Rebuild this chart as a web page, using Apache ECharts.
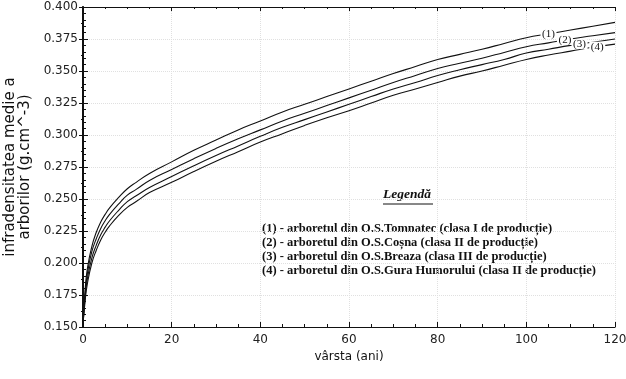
<!DOCTYPE html>
<html><head><meta charset="utf-8">
<script src="https://cdn.jsdelivr.net/npm/echarts@6/dist/echarts.min.js"></script>
<style>html,body{margin:0;padding:0;background:#fff}#c{width:626px;height:379px}</style>
</head><body><div id="c"></div>
<script>
const ages = [0,0.5,1,2,3,4,5,6,8,10,12,15,20,25,30,35,40,45,50,55,60,65,70,75,80,85,90,95,100,105,110,115,120];
const line1 = [0.152,0.180,0.196,0.213,0.224,0.232,0.238,0.243,0.251,0.258,0.263,0.270,0.279,0.288,0.296,0.304,0.311,0.318,0.324,0.330,0.336,0.342,0.348,0.3535,0.359,0.363,0.367,0.3715,0.376,0.379,0.382,0.385,0.388];
const line2 = [0.152,0.177,0.192,0.209,0.219,0.227,0.233,0.238,0.246,0.253,0.2575,0.2645,0.273,0.2815,0.2895,0.297,0.304,0.311,0.317,0.323,0.329,0.335,0.341,0.3465,0.352,0.356,0.360,0.3645,0.369,0.372,0.375,0.3775,0.380];
const line3 = [0.152,0.174,0.188,0.204,0.214,0.222,0.228,0.233,0.241,0.248,0.2525,0.259,0.2675,0.276,0.284,0.2915,0.299,0.306,0.312,0.318,0.324,0.330,0.336,0.341,0.3465,0.351,0.355,0.359,0.364,0.367,0.370,0.3725,0.375];
const line4 = [0.152,0.171,0.184,0.200,0.210,0.218,0.224,0.229,0.237,0.2435,0.248,0.255,0.263,0.2715,0.2795,0.287,0.2945,0.301,0.3075,0.3135,0.319,0.325,0.331,0.336,0.341,0.346,0.350,0.3545,0.359,0.3625,0.3655,0.3685,0.371];
const seriesNames = ['(1)','(2)','(3)','(4)'];
const labelAges = [105,108.7,112,116];
const legendTitle = 'Legendă';
const legendLines = [
  '(1) - arboretul din O.S.Tomnatec (clasa I de producție)',
  '(2) - arboretul din O.S.Coșna (clasa II de producție)',
  '(3) - arboretul din O.S.Breaza (clasa III de producție)',
  '(4) - arboretul din O.S.Gura Humorului (clasa II de producție)'
];
const xName = 'vârsta (ani)';
const yName = 'infradensitatea medie a\narborilor (g.cm^-3)';

function interp(arr, a){
  for(let i=0;i<ages.length-1;i++){
    if(a>=ages[i]&&a<=ages[i+1]){const t=(a-ages[i])/(ages[i+1]-ages[i]);return arr[i]+t*(arr[i+1]-arr[i]);}
  }
  return arr[arr.length-1];
}
const all=[line1,line2,line3,line4];
const chart = echarts.init(document.getElementById('c'));
const axFont = {fontFamily:'DejaVu Sans',fontSize:12,color:'#222'};
const series = all.map((arr,k)=>({
  type:'line', name:seriesNames[k], showSymbol:false, smooth:true,
  data: ages.map((a,i)=>[a,arr[i]]),
  lineStyle:{color:'#111',width:1.1},
  markPoint:{symbol:'rect',symbolSize:[16,10],itemStyle:{color:'#fff'},
    label:{show:true,position:'inside',formatter:seriesNames[k],color:'#111',fontFamily:'Liberation Serif',fontSize:11},
    data:[{coord:[labelAges[k],interp(arr,labelAges[k])]}]},
  z:2
}));
chart.setOption({
  animation:false,
  backgroundColor:'#fff',
  grid:{left:83,right:11,top:7,bottom:52,containLabel:false,outerBoundsMode:'none'},
  xAxis:[{type:'value',min:0,max:120,interval:20,position:'bottom',
    axisLine:{lineStyle:{color:'#111',width:1.2}},
    axisTick:{inside:true,length:5,lineStyle:{color:'#111'}},
    minorTick:{show:true,splitNumber:4,length:3,lineStyle:{color:'#111'}},
    axisLabel:Object.assign({margin:7},axFont),
    splitLine:{show:true,lineStyle:{color:'#e0e0e0',type:'dotted'}},
    name:xName,nameLocation:'middle',nameGap:23,nameTextStyle:{fontFamily:'DejaVu Sans',fontSize:12,color:'#111'}},
   {type:'value',min:0,max:120,interval:20,position:'top',
    axisLine:{lineStyle:{color:'#111'}},axisTick:{inside:true,length:4,lineStyle:{color:'#111'}},
    minorTick:{show:true,splitNumber:4,length:2,lineStyle:{color:'#111'}},
    axisLabel:{show:false},splitLine:{show:false}}],
  yAxis:[{type:'value',min:0.15,max:0.4,interval:0.025,position:'left',
    axisLine:{show:true,lineStyle:{color:'#111',width:2}},
    axisTick:{show:true,inside:true,length:5,lineStyle:{color:'#111'}},
    minorTick:{show:true,splitNumber:5,length:3,lineStyle:{color:'#111'}},
    axisLabel:Object.assign({margin:5,formatter:v=>v.toFixed(3)},axFont),
    splitLine:{show:true,lineStyle:{color:'#e0e0e0',type:'dotted'}},
    name:yName,nameLocation:'middle',nameGap:39,nameRotate:90,
    nameTextStyle:{fontFamily:'DejaVu Sans',fontSize:15,color:'#111',lineHeight:15}},
   {type:'value',min:0.15,max:0.4,interval:0.025,position:'right',
    axisLine:{show:true,lineStyle:{color:'#111',width:1.5}},
    axisTick:{show:true,inside:true,length:4,lineStyle:{color:'#111'}},
    minorTick:{show:true,splitNumber:2,length:2,lineStyle:{color:'#111'}},
    axisLabel:{show:false},splitLine:{show:false}}],
  series:series,
  graphic:[
    {type:'text',left:383,top:188,style:{text:legendTitle,font:'italic bold 13.5px "Liberation Serif"',fill:'#111'}},
    {type:'line',shape:{x1:383,y1:204,x2:433,y2:204},style:{stroke:'#111',lineWidth:1}},
    ...legendLines.map((t,i)=>({type:'text',left:262,top:222+i*14,style:{text:t,font:'bold 12.5px "Liberation Serif"',fill:'#111'}}))
  ]
});
</script></body></html>
